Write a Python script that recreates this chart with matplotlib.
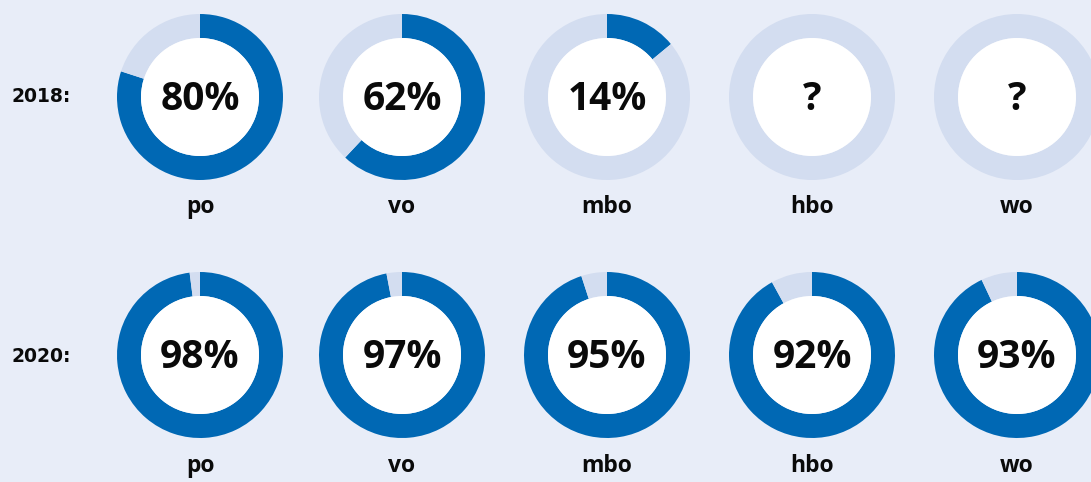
import matplotlib
matplotlib.use("Agg")
import matplotlib.pyplot as plt
from matplotlib.patches import Circle

categories = ["po", "vo", "mbo", "hbo", "wo"]
years = ["2018:", "2020:"]
values_2018 = [80, 62, 14, None, None]
values_2020 = [98, 97, 95, 92, 93]

BLUE = "#0068b4"
LIGHT = "#d3ddf0"
BG = "#e8edf8"

plt.rcParams['font.family'] = ['Open Sans', 'DejaVu Sans']

W, H = 1091, 482
fig = plt.figure(figsize=(W / 100, H / 100), dpi=100, facecolor=BG)
ax = fig.add_axes([0, 0, 1, 1])
ax.set_facecolor(BG)

xs = [200, 402, 607, 812, 1017]
row_y = [H - 97, H - 355]
label_y = [H - 207, H - 466]
year_y = [H - 97, H - 357]
year_x = 41
R_OUT, R_IN = 83, 59

for r, vals in enumerate([values_2018, values_2020]):
    for cx, v, cat in zip(xs, vals, categories):
        if v is None:
            ax.pie([1], colors=[LIGHT], center=(cx, row_y[r]), radius=R_OUT,
                   wedgeprops=dict(width=R_OUT - R_IN, linewidth=0), frame=True)
            txt = "?"
        else:
            ax.pie([v, 100 - v], colors=[BLUE, LIGHT], center=(cx, row_y[r]),
                   radius=R_OUT, startangle=90, counterclock=False,
                   wedgeprops=dict(width=R_OUT - R_IN, linewidth=0), frame=True)
            txt = f"{v}%"
        ax.add_patch(Circle((cx, row_y[r]), R_IN, facecolor="white", edgecolor="none", zorder=3))
        ax.text(cx, row_y[r] - 2, txt, ha='center', va='center', fontsize=28,
                fontweight='bold', color="#0a0a0a", zorder=4)
        ax.text(cx, label_y[r], cat, ha='center', va='center', fontsize=16.5,
                fontweight='bold', color="#0a0a0a")
    ax.text(year_x, year_y[r], years[r], ha='center', va='center', fontsize=13.5,
            fontweight='bold', color="#0a0a0a", family=['DejaVu Sans'])

ax.set_xlim(0, W)
ax.set_ylim(0, H)
ax.set_aspect('equal')
ax.axis('off')
fig.savefig("out.png", dpi=100, facecolor=BG)
